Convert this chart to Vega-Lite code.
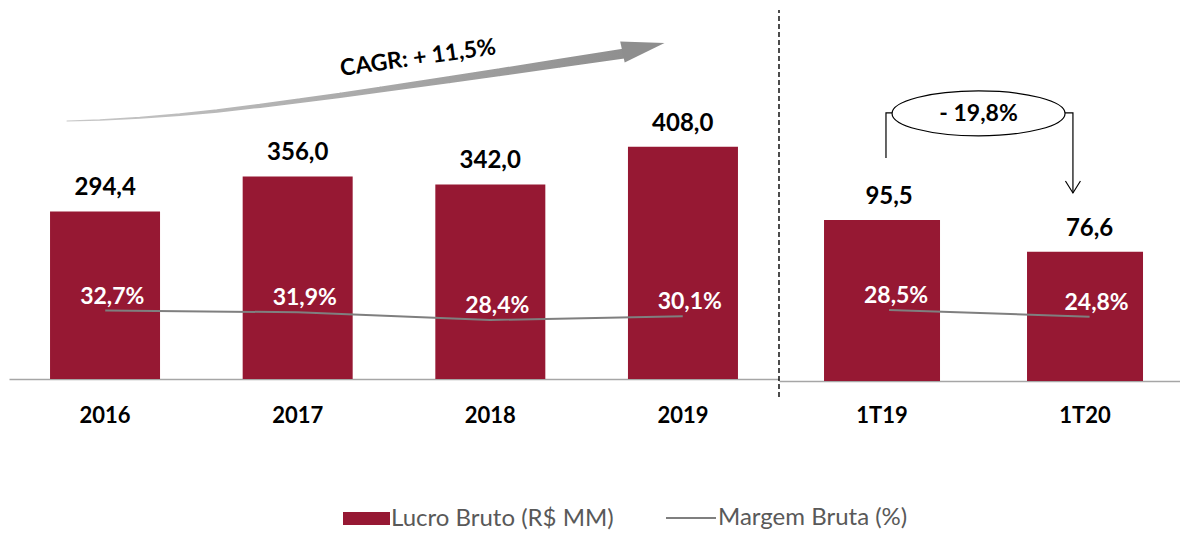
{
  "$schema": "https://vega.github.io/schema/vega-lite/v6.json",
  "padding": {"left": 9, "top": 8, "right": 0, "bottom": 0},
  "spacing": 0,
  "bounds": "flush",
  "datasets": {
    "anual": [
      {"periodo": "2016", "lucro": 294.4, "margem": 0.327},
      {"periodo": "2017", "lucro": 356.0, "margem": 0.319},
      {"periodo": "2018", "lucro": 342.0, "margem": 0.284},
      {"periodo": "2019", "lucro": 408.0, "margem": 0.301}
    ],
    "trimestral": [
      {"periodo": "1T19", "lucro": 95.5, "margem": 0.285},
      {"periodo": "1T20", "lucro": 76.6, "margem": 0.248}
    ],
    "seta_cagr": [
      {"ordem": 1, "x": 0.301, "y": 453.4},
      {"ordem": 2, "x": 0.473, "y": 455.2},
      {"ordem": 3, "x": 0.681, "y": 459.1},
      {"ordem": 4, "x": 0.888, "y": 464.7},
      {"ordem": 5, "x": 1.081, "y": 471.0},
      {"ordem": 6, "x": 1.304, "y": 480.0},
      {"ordem": 7, "x": 1.512, "y": 489.1},
      {"ordem": 8, "x": 1.719, "y": 498.6},
      {"ordem": 9, "x": 1.927, "y": 508.6},
      {"ordem": 10, "x": 2.291, "y": 526.2},
      {"ordem": 11, "x": 2.551, "y": 539.2},
      {"ordem": 12, "x": 2.862, "y": 555.0},
      {"ordem": 13, "x": 3.184, "y": 571.4},
      {"ordem": 14, "x": 3.226, "y": 573.5}
    ],
    "ponta_cagr": [{"x": 3.296, "y": 582.6}],
    "texto_cagr": [{"x": 2.125, "y": 564, "rotulo": "CAGR: + 11,5%"}],
    "separador": [{"x": 0, "y": -9.5, "y2": 220}],
    "colchete": [
      {"ordem": 1, "x": 0.527, "y": 132.3},
      {"ordem": 2, "x": 0.527, "y": 159.0},
      {"ordem": 3, "x": 1.448, "y": 159.0},
      {"ordem": 4, "x": 1.448, "y": 111.5}
    ],
    "ponta_colchete": [{"x": 1.448, "y": 111.5}],
    "variacao": [{"x": 0.983, "y": 158.7, "rotulo": "- 19,8%"}]
  },
  "hconcat": [
    {
      "width": 770,
      "height": 371,
      "layer": [
        {
          "data": {"name": "anual"},
          "mark": {"type": "bar"},
          "encoding": {
            "x": {"field": "periodo", "type": "nominal", "sort": null, "title": null,
                  "scale": {"paddingInner": 0.429, "paddingOuter": 0.213},
                  "axis": {"labelPadding": 36}},
            "y": {"field": "lucro", "type": "quantitative", "scale": {"domain": [0, 652], "nice": false}, "axis": null},
            "fill": {"datum": "Lucro Bruto (R$ MM)", "scale": {"range": ["#961833"]},
                     "legend": {"orient": "none", "legendX": 334, "legendY": 487, "title": null,
                                "symbolType": "M-1,-0.2766H1V0.2766H-1Z", "symbolSize": 2209, "symbolStrokeWidth": 0,
                                "labelFontSize": 24, "labelFont": "Lato", "labelColor": "#595959", "labelOffset": 1, "labelLimit": 0, "padding": 0}}
          }
        },
        {
          "data": {"name": "anual"},
          "mark": {"type": "text", "dy": -23, "baseline": "middle", "fontSize": 24, "fontWeight": "bold", "font": "Lato", "color": "#000000"},
          "encoding": {
            "x": {"field": "periodo", "type": "nominal", "sort": null, "scale": {"paddingInner": 0.429, "paddingOuter": 0.213}, "axis": null},
            "y": {"field": "lucro", "type": "quantitative", "scale": {"domain": [0, 652], "nice": false}, "axis": null},
            "text": {"field": "lucro", "type": "quantitative", "format": ".1f"}
          }
        },
        {
          "data": {"name": "anual"},
          "mark": {"type": "line", "strokeWidth": 2},
          "encoding": {
            "x": {"field": "periodo", "type": "nominal", "sort": null, "scale": {"paddingInner": 0.429, "paddingOuter": 0.213}, "axis": null},
            "y": {"field": "margem", "type": "quantitative", "scale": {"domain": [0.017, 1.696], "nice": false, "zero": false}, "axis": null},
            "stroke": {"datum": "Margem Bruta (%)", "scale": {"range": ["#7F7F7F"]},
                       "legend": {"orient": "none", "legendX": 656, "legendY": 484, "title": null,
                                  "symbolType": "stroke", "symbolSize": 2500, "symbolStrokeWidth": 2,
                                  "labelFontSize": 24, "labelFont": "Lato", "labelColor": "#595959", "labelOffset": 1, "labelLimit": 0, "padding": 0}}
          }
        },
        {
          "data": {"name": "anual"},
          "mark": {"type": "text", "dx": 7, "dy": -14, "baseline": "middle", "fontSize": 23, "fontWeight": "bold", "font": "Lato", "color": "#FFFFFF"},
          "encoding": {
            "x": {"field": "periodo", "type": "nominal", "sort": null, "scale": {"paddingInner": 0.429, "paddingOuter": 0.213}, "axis": null},
            "y": {"field": "margem", "type": "quantitative", "scale": {"domain": [0.017, 1.696], "nice": false, "zero": false}, "axis": null},
            "text": {"field": "margem", "type": "quantitative", "format": ".1%"}
          }
        },
        {
          "data": {"name": "seta_cagr"},
          "mark": {"type": "trail", "fill": {"gradient": "linear", "x1": 0, "y1": 0, "x2": 1, "y2": 0, "stops": [{"offset": 0, "color": "#C8C8C8"}, {"offset": 1, "color": "#8E8E8E"}]}},
          "encoding": {
            "x": {"field": "x", "type": "quantitative", "scale": {"domain": [0, 4], "nice": false, "zero": false}, "axis": null},
            "y": {"field": "y", "type": "quantitative", "scale": {"domain": [0, 652], "nice": false}, "axis": null},
            "order": {"field": "ordem"},
            "size": {"field": "x", "type": "quantitative", "scale": {"domain": [0.3, 3.23], "range": [1, 10]}, "legend": null}
          }
        },
        {
          "data": {"name": "ponta_cagr"},
          "mark": {"type": "point", "shape": "M-1,-0.5L1,0L-1,0.5Z", "size": 1849, "angle": 348, "filled": true, "fill": "#8E8E8E", "strokeWidth": 0, "opacity": 1},
          "encoding": {
            "x": {"field": "x", "type": "quantitative", "scale": {"domain": [0, 4], "nice": false, "zero": false}, "axis": null},
            "y": {"field": "y", "type": "quantitative", "scale": {"domain": [0, 652], "nice": false}, "axis": null}
          }
        },
        {
          "data": {"name": "texto_cagr"},
          "mark": {"type": "text", "angle": 352, "align": "center", "baseline": "middle", "fontSize": 23, "fontWeight": "bold", "font": "Lato", "color": "#000000"},
          "encoding": {
            "x": {"field": "x", "type": "quantitative", "scale": {"domain": [0, 4], "nice": false, "zero": false}, "axis": null},
            "y": {"field": "y", "type": "quantitative", "scale": {"domain": [0, 652], "nice": false}, "axis": null},
            "text": {"field": "rotulo"}
          }
        }
      ],
      "resolve": {"scale": {"x": "independent", "y": "independent"}}
    },
    {
      "width": 401,
      "height": 373,
      "layer": [
        {
          "data": {"name": "trimestral"},
          "mark": {"type": "bar"},
          "encoding": {
            "x": {"field": "periodo", "type": "nominal", "sort": null, "title": null,
                  "scale": {"paddingInner": 0.4286, "paddingOuter": 0.202, "align": 0.549},
                  "axis": {"labelPadding": 34}},
            "y": {"field": "lucro", "type": "quantitative", "scale": {"domain": [0, 221.2], "nice": false}, "axis": null},
            "fill": {"datum": "Lucro Bruto (R$ MM)", "scale": {"range": ["#961833"]},
                     "legend": {"orient": "none", "legendX": 334, "legendY": 487, "title": null,
                                "symbolType": "M-1,-0.2766H1V0.2766H-1Z", "symbolSize": 2209, "symbolStrokeWidth": 0,
                                "labelFontSize": 24, "labelFont": "Lato", "labelColor": "#595959", "labelOffset": 1, "labelLimit": 0, "padding": 0}}
          }
        },
        {
          "data": {"name": "trimestral"},
          "mark": {"type": "text", "dy": -23, "baseline": "middle", "fontSize": 24, "fontWeight": "bold", "font": "Lato", "color": "#000000"},
          "encoding": {
            "x": {"field": "periodo", "type": "nominal", "sort": null, "scale": {"paddingInner": 0.4286, "paddingOuter": 0.202, "align": 0.549}, "axis": null},
            "y": {"field": "lucro", "type": "quantitative", "scale": {"domain": [0, 221.2], "nice": false}, "axis": null},
            "text": {"field": "lucro", "type": "quantitative", "format": ".1f"}
          }
        },
        {
          "data": {"name": "trimestral"},
          "mark": {"type": "line", "strokeWidth": 2},
          "encoding": {
            "x": {"field": "periodo", "type": "nominal", "sort": null, "scale": {"paddingInner": 0.4286, "paddingOuter": 0.202, "align": 0.549}, "axis": null},
            "y": {"field": "margem", "type": "quantitative", "scale": {"domain": [-0.107, 1.954], "nice": false, "zero": false}, "axis": null},
            "stroke": {"datum": "Margem Bruta (%)", "scale": {"range": ["#7F7F7F"]},
                       "legend": {"orient": "none", "legendX": 656, "legendY": 484, "title": null,
                                  "symbolType": "stroke", "symbolSize": 2500, "symbolStrokeWidth": 2,
                                  "labelFontSize": 24, "labelFont": "Lato", "labelColor": "#595959", "labelOffset": 1, "labelLimit": 0, "padding": 0}}
          }
        },
        {
          "data": {"name": "trimestral"},
          "mark": {"type": "text", "dx": 7, "dy": -14, "baseline": "middle", "fontSize": 23, "fontWeight": "bold", "font": "Lato", "color": "#FFFFFF"},
          "encoding": {
            "x": {"field": "periodo", "type": "nominal", "sort": null, "scale": {"paddingInner": 0.4286, "paddingOuter": 0.202, "align": 0.549}, "axis": null},
            "y": {"field": "margem", "type": "quantitative", "scale": {"domain": [-0.107, 1.954], "nice": false, "zero": false}, "axis": null},
            "text": {"field": "margem", "type": "quantitative", "format": ".1%"}
          }
        },
        {
          "data": {"name": "separador"},
          "mark": {"type": "rule", "strokeDash": [5, 3], "color": "#000000", "strokeWidth": 1.4},
          "encoding": {
            "x": {"field": "x", "type": "quantitative", "scale": {"domain": [0, 1.9754], "nice": false, "zero": false}, "axis": null},
            "y": {"field": "y", "type": "quantitative", "scale": {"domain": [0, 221.2], "nice": false, "zero": false}, "axis": null},
            "y2": {"field": "y2"}
          }
        },
        {
          "data": {"name": "colchete"},
          "mark": {"type": "line", "color": "#000000", "strokeWidth": 1.2},
          "encoding": {
            "x": {"field": "x", "type": "quantitative", "scale": {"domain": [0, 1.9754], "nice": false, "zero": false}, "axis": null},
            "y": {"field": "y", "type": "quantitative", "scale": {"domain": [0, 221.2], "nice": false, "zero": false}, "axis": null},
            "order": {"field": "ordem"}
          }
        },
        {
          "data": {"name": "ponta_colchete"},
          "mark": {"type": "point", "shape": "M-1,-1.6L0,0L1,-1.6", "size": 225, "filled": false, "stroke": "#000000", "strokeWidth": 1.2, "opacity": 1},
          "encoding": {
            "x": {"field": "x", "type": "quantitative", "scale": {"domain": [0, 1.9754], "nice": false, "zero": false}, "axis": null},
            "y": {"field": "y", "type": "quantitative", "scale": {"domain": [0, 221.2], "nice": false, "zero": false}, "axis": null}
          }
        },
        {
          "data": {"name": "variacao"},
          "mark": {"type": "point", "shape": "M-1,0A1,0.26 0 1,1 1,0A1,0.26 0 1,1 -1,0Z", "size": 29929, "filled": true, "fill": "#FFFFFF", "stroke": "#000000", "strokeWidth": 1.2, "opacity": 1},
          "encoding": {
            "x": {"field": "x", "type": "quantitative", "scale": {"domain": [0, 1.9754], "nice": false, "zero": false}, "axis": null},
            "y": {"field": "y", "type": "quantitative", "scale": {"domain": [0, 221.2], "nice": false, "zero": false}, "axis": null}
          }
        },
        {
          "data": {"name": "variacao"},
          "mark": {"type": "text", "align": "center", "baseline": "middle", "dy": 1, "fontSize": 23, "fontWeight": "bold", "font": "Lato", "color": "#000000"},
          "encoding": {
            "x": {"field": "x", "type": "quantitative", "scale": {"domain": [0, 1.9754], "nice": false, "zero": false}, "axis": null},
            "y": {"field": "y", "type": "quantitative", "scale": {"domain": [0, 221.2], "nice": false, "zero": false}, "axis": null},
            "text": {"field": "rotulo"}
          }
        }
      ],
      "resolve": {"scale": {"x": "independent", "y": "independent"}}
    }
  ],
  "config": {
    "view": {"stroke": null},
    "font": "Lato",
    "locale": {"number": {"decimal": ",", "thousands": ".", "grouping": [3], "currency": ["R$", ""]}},
    "axis": {
      "grid": false, "ticks": false, "tickSize": 0,
      "labelFont": "Lato", "labelFontWeight": "bold", "labelFontSize": 22, "labelColor": "#000000",
      "labelAngle": 0, "labelBaseline": "middle",
      "domainColor": "#A6A6A6", "domainWidth": 1.5
    }
  }
}
